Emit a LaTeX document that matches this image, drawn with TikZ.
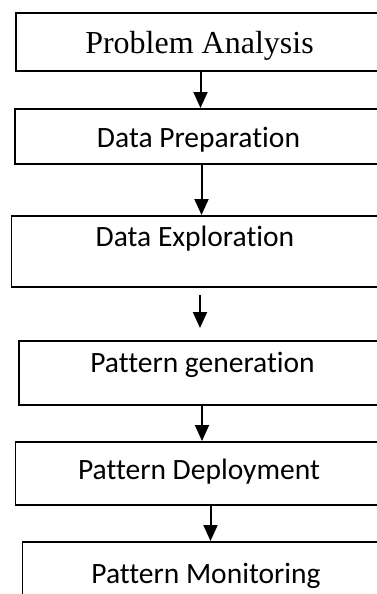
\documentclass[tikz,border=0pt]{standalone}
\usepackage{fontspec}
\setmainfont[RawFeature=-liga]{Carlito}
\newfontfamily\timesfont{Liberation Serif}
\usetikzlibrary{arrows.meta}

\begin{document}
\begin{tikzpicture}[x=1pt,y=-1pt,>={Triangle[width=14pt,length=16pt]},
  stagebox/.style={draw,line width=1.8pt,anchor=north,inner sep=0pt,minimum width=367pt,font=\fontsize{29.5}{34}\selectfont},
  flow/.style={->,line width=2pt}]
\useasboundingbox (0,0) rectangle (377,594);
\node[stagebox,text height=41pt,text depth=17pt,font=\timesfont\fontsize{32}{36}\selectfont] (analysis) at (199.5,12) {Problem Analysis};
\node[stagebox,text height=39pt,text depth=16pt] (preparation) at (198.5,108) {Data Preparation};
\node[stagebox,text height=31pt,text depth=40pt] (exploration) at (195,215) {Data Exploration};
\node[stagebox,text height=32pt,text depth=32pt] (generation) at (202.5,340) {Pattern generation};
\node[stagebox,text height=38pt,text depth=25pt] (deployment) at (199,441) {Pattern Deployment};
\node[stagebox,text height=42pt,text depth=60pt] (monitoring) at (206,541) {Pattern Monitoring};
% arrows between the stages
\coordinate (s1) at ([xshift=1pt]analysis.south);
\coordinate (s2) at ([xshift=3pt]preparation.south);
\coordinate (s3) at ([xshift=5pt,yshift=-7pt]exploration.south);
\coordinate (s4) at ([xshift=-0.5pt]generation.south);
\coordinate (s5) at ([xshift=11.5pt]deployment.south);
\draw[flow] (s1) -- (s1 |- preparation.north);
\draw[flow] (s2) -- (s2 |- exploration.north);
\draw[flow,shorten >=12pt] (s3) -- (s3 |- generation.north);
\draw[flow] (s4) -- (s4 |- deployment.north);
\draw[flow] (s5) -- (s5 |- monitoring.north);
\end{tikzpicture}
\end{document}
